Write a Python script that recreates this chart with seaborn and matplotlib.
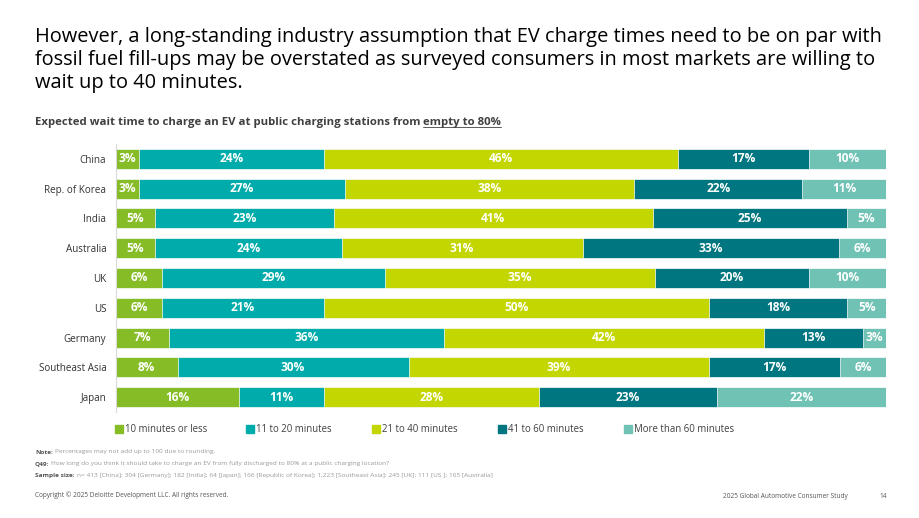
import numpy as np
import pandas as pd
import matplotlib
matplotlib.use("Agg")
import matplotlib.pyplot as plt
import seaborn as sns
from matplotlib.lines import Line2D

countries = ["China", "Rep. of Korea", "India", "Australia", "UK", "US",
             "Germany", "Southeast Asia", "Japan"]
categories = ["10 minutes or less", "11 to 20 minutes", "21 to 40 minutes",
              "41 to 60 minutes", "More than 60 minutes"]
v_10_or_less = [3, 3, 5, 5, 6, 6, 7, 8, 16]
v_11_to_20 = [24, 27, 23, 24, 29, 21, 36, 30, 11]
v_21_to_40 = [46, 38, 41, 31, 35, 50, 42, 39, 28]
v_41_to_60 = [17, 22, 25, 33, 20, 18, 13, 17, 23]
v_over_60 = [10, 11, 5, 6, 10, 5, 3, 6, 22]
colors = ["#86BC25", "#00ABAB", "#C4D600", "#007680", "#6FC2B4"]

title = ("However, a long-standing industry assumption that EV charge times need to be on par with\n"
         "fossil fuel fill-ups may be overstated as surveyed consumers in most markets are willing to\n"
         "wait up to 40 minutes.")
subtitle_a = "Expected wait time to charge an EV at public charging stations from "
subtitle_b = "empty to 80%"
notes = [
    ("Note:", "Percentages may not add up to 100 due to rounding."),
    ("Q49:", "How long do you think it should take to charge an EV from fully discharged to 80% at a public charging location?"),
    ("Sample size:", "n= 413 [China]; 304 [Germany]; 182 [India]; 64 [Japan]; 166 [Republic of Korea]; 1,223 [Southeast Asia]; 245 [UK]; 111 [US ]; 165 [Australia]"),
]
copyright_txt = "Copyright \u00a9 2025 Deloitte Development LLC. All rights reserved."
footer_txt = "2025 Global Automotive Consumer Study"
page_txt = "14"

sns.set_theme(style="white")
plt.rcParams["font.family"] = ["Open Sans", "DejaVu Sans"]

W, H = 920, 518
fig = plt.figure(figsize=(W / 100, H / 100), dpi=100)

def fx(px):
    return px / W

def fy(py):
    return 1 - py / H

df = pd.DataFrame({"country": countries,
                   categories[0]: v_10_or_less,
                   categories[1]: v_11_to_20,
                   categories[2]: v_21_to_40,
                   categories[3]: v_41_to_60,
                   categories[4]: v_over_60})
vals = df[categories]
norm = vals.div(vals.sum(axis=1), axis=0) * 100
cum = norm.cumsum(axis=1)
plot_df = cum.copy()
plot_df["country"] = countries

ax = fig.add_axes([fx(116), fy(412), fx(886) - fx(116), (412 - 144) / H])
for i in reversed(range(len(categories))):
    sns.barplot(data=plot_df, x=categories[i], y="country", orient="h",
                color=colors[i], saturation=1, width=0.67, ax=ax,
                edgecolor="white", linewidth=0.5)

for r in range(len(countries)):
    for i, c in enumerate(categories):
        center = cum.iloc[r, i] - norm.iloc[r, i] / 2
        ax.text(center, r, f"{vals.iloc[r, i]}%", ha="center", va="center",
                color="white", fontsize=8.6, fontweight="bold")

ax.set_xlim(0, 100)
ax.set_ylim(len(countries) - 0.5, -0.5)
ax.set_xlabel("")
ax.set_ylabel("")
ax.set_xticks([])
for s in ["top", "right", "bottom"]:
    ax.spines[s].set_visible(False)
ax.spines["left"].set_color("#D9D9D9")
ax.spines["left"].set_linewidth(0.8)
ax.tick_params(axis="y", length=0, pad=7, labelsize=7.1, labelcolor="#333333")

# Title and subtitle
fig.text(fx(35), fy(27), title, ha="left", va="top", fontsize=14.45,
         color="#000000", linespacing=1.2)
t1 = fig.text(fx(35), fy(122), subtitle_a, ha="left", va="center",
              fontsize=8.2, fontweight="bold", color="#404040")
fig.canvas.draw()
renderer = fig.canvas.get_renderer()
bb = t1.get_window_extent(renderer)
t2 = fig.text(bb.x1 / W, fy(122), subtitle_b, ha="left", va="center",
              fontsize=8.2, fontweight="bold", color="#404040")
bb2 = t2.get_window_extent(renderer)
fig.add_artist(Line2D([bb2.x0 / W, bb2.x1 / W], [bb2.y0 / H + 0.001, bb2.y0 / H + 0.001],
                      color="#404040", linewidth=0.6))

# Legend
leg_x = [116, 247, 373, 499, 625]
for i, c in enumerate(categories):
    h = [Line2D([], [], marker="s", linestyle="", markersize=5.5,
                markerfacecolor=colors[i], markeredgecolor=colors[i])]
    lg = fig.legend(h, [c], loc="center left",
                    bbox_to_anchor=(fx(leg_x[i]), fy(430)),
                    frameon=False, fontsize=6.95, handlelength=0.7,
                    handletextpad=0.25, borderpad=0, borderaxespad=0)
    for t in lg.get_texts():
        t.set_color("#404040")

# Notes
note_y = [452, 464, 476]
for (b, rest), y in zip(notes, note_y):
    tb = fig.text(fx(35), fy(y), b, ha="left", va="center", fontsize=4.65,
                  fontweight="bold", color="#555555")
    e = tb.get_window_extent(renderer)
    fig.text((e.x1 + 2) / W, fy(y), rest, ha="left", va="center",
             fontsize=4.65, color="#999999")

fig.text(fx(35), fy(495), copyright_txt, ha="left", va="center",
         fontsize=4.7, color="#555555")
fig.text(fx(848), fy(496), footer_txt, ha="right", va="center",
         fontsize=4.7, color="#555555")
fig.text(fx(883), fy(496), page_txt, ha="center", va="center",
         fontsize=4.7, color="#555555")

fig.savefig("out.png", dpi=100)
